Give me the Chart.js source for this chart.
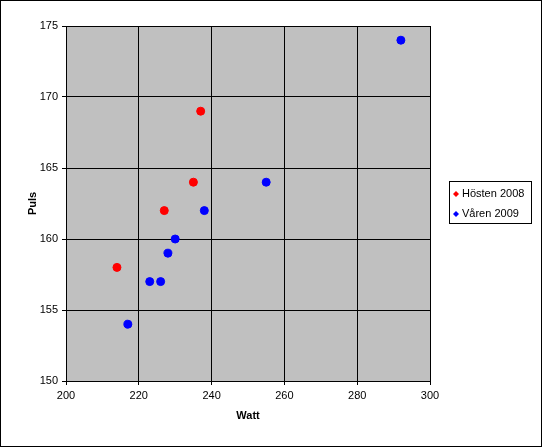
<!DOCTYPE html>
<html>
<head>
<meta charset="utf-8">
<script src="https://cdn.jsdelivr.net/npm/chart.js@4"></script>
<style>
  body { margin: 0; background: #fff; }
  #wrap { width: 542px; height: 447px; position: relative; }
</style>
</head>
<body>
<div id="wrap"><canvas id="c"></canvas></div>
<script>
// data
var seriesNames = ["Hösten 2008", "Våren 2009"];
var seriesColors = ["#ff0000", "#0000ff"];
var hostenWatt = [214, 227, 235, 237];
var hostenPuls = [158, 162, 164, 169];
var varenWatt = [217, 223, 226, 228, 230, 238, 255, 292];
var varenPuls = [154, 157, 157, 159, 160, 162, 164, 174];

function toPoints(xs, ys) {
  var i, out = [];
  for (i = 0; i < xs.length; i += 1) {
    out.push({x: xs[i], y: ys[i]});
  }
  return out;
}

var FONT = "'Liberation Sans', Arial, sans-serif";

var frame = {
  id: "frame",
  beforeDraw: function (chart) {
    var ctx = chart.ctx, a = chart.chartArea;
    ctx.save();
    ctx.fillStyle = "#c0c0c0";
    ctx.fillRect(a.left, a.top, a.right - a.left, a.bottom - a.top);
    ctx.restore();
  },
  afterDraw: function (chart) {
    var ctx = chart.ctx, i, y;
    ctx.save();
    ctx.strokeStyle = "#000";
    ctx.lineWidth = 1;
    ctx.strokeRect(0.5, 0.5, 541, 446);
    // legend box
    ctx.strokeRect(449.5, 181.5, 82, 42);
    ctx.font = "11px " + FONT;
    ctx.textBaseline = "middle";
    for (i = 0; i < seriesNames.length; i += 1) {
      y = 194 + i * 20;
      ctx.fillStyle = seriesColors[i];
      ctx.beginPath();
      ctx.moveTo(456, y - 3);
      ctx.lineTo(459, y);
      ctx.lineTo(456, y + 3);
      ctx.lineTo(453, y);
      ctx.closePath();
      ctx.fill();
      ctx.fillStyle = "#000";
      ctx.fillText(seriesNames[i], 462, y);
    }
    ctx.restore();
  }
};

new Chart(document.getElementById("c"), {
  type: "scatter",
  data: {
    datasets: [
      {
        label: seriesNames[0],
        data: toPoints(hostenWatt, hostenPuls),
        backgroundColor: seriesColors[0],
        borderColor: seriesColors[0],
        pointRadius: 4
      },
      {
        label: seriesNames[1],
        data: toPoints(varenWatt, varenPuls),
        backgroundColor: seriesColors[1],
        borderColor: seriesColors[1],
        pointRadius: 4
      }
    ]
  },
  options: {
    responsive: true,
    maintainAspectRatio: false,
    animation: false,
    layout: {padding: {left: 22, right: 112, top: 26, bottom: 20}},
    plugins: {legend: {display: false}, tooltip: {enabled: false}},
    scales: {
      x: {
        min: 200, max: 300,
        ticks: {stepSize: 20, color: "#000", font: {family: FONT, size: 11}, padding: 4},
        grid: {color: "#000", tickLength: 4, drawTicks: true},
        border: {color: "#000"},
        title: {display: true, text: "Watt", color: "#000", font: {family: FONT, size: 11, weight: "bold"}, padding: {top: 8}},
        afterFit: function (s) { s.height = 46; }
      },
      y: {
        min: 150, max: 175,
        ticks: {stepSize: 5, color: "#000", font: {family: FONT, size: 11}, padding: 4},
        grid: {color: "#000", tickLength: 4},
        border: {color: "#000"},
        title: {display: true, text: "Puls", color: "#000", font: {family: FONT, size: 11, weight: "bold"}, padding: {bottom: 8}},
        afterFit: function (s) { s.width = 44; }
      }
    }
  },
  plugins: [frame]
});
</script>
</body>
</html>
